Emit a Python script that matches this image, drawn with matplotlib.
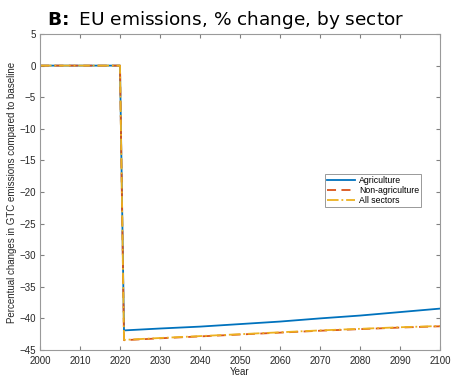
import matplotlib.pyplot as plt

# Data
years = [2000, 2010, 2020, 2021, 2030, 2040, 2050, 2060, 2070, 2080, 2090, 2100]
agriculture = [0, 0, 0, -41.9, -41.6, -41.3, -40.9, -40.5, -40.0, -39.55, -39.0, -38.45]
non_agriculture = [0, 0, 0, -43.45, -43.15, -42.85, -42.55, -42.25, -41.95, -41.7, -41.45, -41.25]
all_sectors = [0, 0, 0, -43.4, -43.1, -42.8, -42.5, -42.2, -41.9, -41.65, -41.4, -41.2]

xticks = list(range(2000, 2101, 10))
yticks = list(range(-45, 6, 5))

plt.rcParams['font.family'] = ['Liberation Sans', 'DejaVu Sans']

fig = plt.figure(figsize=(4.51, 3.76), dpi=100)
ax = fig.add_axes([40 / 451, 1 - 350 / 376, 400 / 451, 316 / 376])

ax.plot(years, agriculture, color='#0072BD', lw=1.3, label='Agriculture')
ax.plot(years, non_agriculture, color='#D95319', lw=1.3, ls=(0, (5, 3)), label='Non-agriculture')
ax.plot(years, all_sectors, color='#EDB120', lw=1.3, ls='-.', label='All sectors')

ax.set_xlim(2000, 2100)
ax.set_ylim(-45, 5)
ax.set_xticks(xticks)
ax.set_yticks(yticks)
ax.tick_params(direction='in', top=True, right=True, labelsize=7, length=3,
               color='#808080', labelcolor='#262626')
ax.tick_params(axis='x', pad=4)
ax.tick_params(axis='y', pad=3)
for s in ax.spines.values():
    s.set_color('#9a9a9a')
    s.set_linewidth(0.8)

ax.set_xlabel('Year', fontsize=7, color='#262626', labelpad=1)
ax.set_ylabel('Percentual changes in GTC emissions compared to baseline', fontsize=7,
              color='#262626', labelpad=2)

fig.text(0.5, 0.975, r'$\bf{B\!:}$ EU emissions, % change, by sector', ha='center', va='top',
         fontsize=13.3, family='DejaVu Sans')

leg = ax.legend(loc='upper left', bbox_to_anchor=(0.713, 0.557), fontsize=6.3,
                frameon=True, fancybox=False, edgecolor='#808080', handlelength=3.2,
                borderpad=0.25, labelspacing=0.1, handletextpad=0.4, borderaxespad=0)
leg.get_frame().set_linewidth(0.7)

fig.savefig('out.png', dpi=100)
